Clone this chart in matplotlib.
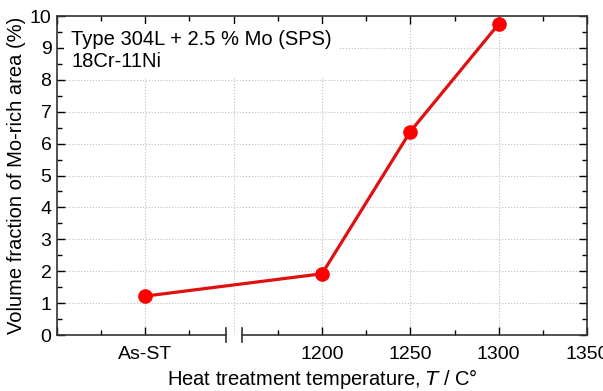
import numpy as np
import matplotlib
matplotlib.use('Agg')
import matplotlib.pyplot as plt

plt.rcParams['font.family'] = ['Liberation Sans', 'DejaVu Sans']

# data: "As-ST" is placed at 1100 on the broken axis
temps = [1100, 1200, 1250, 1300]
frac = [1.22, 1.92, 6.38, 9.75]
tick_pos = [1050, 1100, 1150, 1200, 1250, 1300, 1350]
tick_lab = ['', 'As-ST', '', '1200', '1250', '1300', '1350']

fig = plt.figure(figsize=(6.03, 3.91), dpi=100)
ax = fig.add_axes([0.0945, 0.1432, 0.879, 0.8158])

ax.plot(temps, frac, color='#e01010', lw=2.3, marker='o', ms=9.5,
        mfc='#ff0000', mec='#ff0000', zorder=5)

ax.set_xlim(1050, 1350)
ax.set_ylim(0, 10)
ax.set_xticks(tick_pos)
ax.set_xticklabels(tick_lab)
ax.set_xticks(np.arange(1075, 1350, 50), minor=True)
ax.set_yticks(np.arange(0, 11, 1))
ax.set_yticks(np.arange(0.5, 10, 1), minor=True)
ax.tick_params(which='both', direction='in', top=True, right=True, labelsize=14, width=1)
ax.tick_params(which='major', length=6)
ax.tick_params(which='minor', length=3.5)
ax.tick_params(axis='x', pad=8)
ax.tick_params(axis='y', pad=4)
ax.xaxis.get_major_ticks()[2].tick1line.set_visible(False)

ax.grid(True, which='major', ls=':', color='#c0c0c0', lw=0.8)
ax.set_axisbelow(True)
for s in ax.spines.values():
    s.set_linewidth(1.2)
    s.set_color('#333333')

# broken bottom axis
ax.spines['bottom'].set_visible(False)
kw = dict(color='#333333', lw=1.2, clip_on=False, zorder=6)
ax.plot([1050, 1145.5], [0, 0], **kw)
ax.plot([1154.5, 1350], [0, 0], **kw)
ax.plot([1145.5, 1145.5], [-0.22, 0.22], **kw)
ax.plot([1154.5, 1154.5], [-0.22, 0.22], **kw)

ax.text(0.027, 0.955, 'Type 304L + 2.5 % Mo (SPS)\n18Cr-11Ni', transform=ax.transAxes,
        ha='left', va='top', fontsize=14.5, linespacing=1.15, zorder=4,
        bbox=dict(facecolor='white', edgecolor='none', pad=5))

ax.set_xlabel('Heat treatment temperature, $\\mathit{T}$ / C°', fontsize=14.5, labelpad=3)
ax.set_ylabel('Volume fraction of Mo-rich area (%)', fontsize=14.5, labelpad=3)

fig.savefig('out.png', dpi=100)
